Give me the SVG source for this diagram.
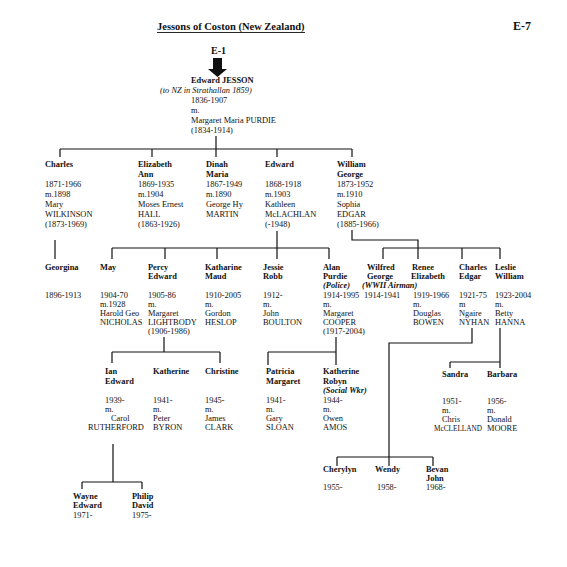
<svg xmlns="http://www.w3.org/2000/svg" width="567" height="567" viewBox="0 0 567 567">
<style>
text{font-family:"Liberation Serif","Times New Roman",serif;font-size:8.4px;fill:#111}
.b{font-weight:bold}
.i{font-style:italic}
.bi{font-weight:bold;font-style:italic}
.ttl{font-size:10.5px;font-weight:bold}
.ln{stroke:#111;stroke-width:1.2;fill:none}
</style>
<rect width="567" height="567" fill="#fff"/>
<g id="header">
<text x="157" y="30" class="ttl">Jessons of Coston (New Zealand)</text>
<line x1="157" y1="32.5" x2="305" y2="32.5" stroke="#111" stroke-width="0.9"/>
<text x="513" y="30" class="ttl" style="font-size:12px">E-7</text>
<text x="211" y="54" class="b" style="font-size:10px">E-1</text>
<path d="M213 58h9v11h5l-9.5 8l-9.5-8h5z" fill="#111"/>
</g>
<g id="connectors" class="ln">
<path d="M216 136V149M60 149H352M60 149V157M152 149V157M216 149V157M277 149V157M352 149V157"/>
<path d="M55 240V259"/>
<path d="M277 231V248M112 248H329M112 248V259M165 248V259M217 248V259M277 248V259M329 248V259"/>
<path d="M352 230V240H418V248M383 248H500M383 248V259M418 248V259M462 248V259M500 248V259"/>
<path d="M164 337V352M112 352H220M112 352V363M220 352V363"/>
<path d="M336 337V365M268 352H336M268 352V365"/>
<path d="M472 328V343H389V466M337 457H433M337 457V466M433 457V466"/>
<path d="M500 328V362M450 362H500M450 362V368M500 362V368"/>
<path d="M113 444V482M82 482H142M82 482V489M142 482V489"/>
</g>
<g id="edward-jesson">
<text x="191" y="83" class="b">Edward JESSON</text>
<text x="160" y="93" class="i">(to NZ in Strathallan 1859)</text>
<text x="191" y="103">1836-1907</text>
<text x="191" y="113">m.</text>
<text x="191" y="123">Margaret Maria PURDIE</text>
<text x="191" y="133">(1834-1914)</text>
</g>
<g id="charles">
<text x="45" y="167" class="b">Charles</text>
<text x="45" y="187">1871-1966</text>
<text x="45" y="197">m.1898</text>
<text x="45" y="207">Mary</text>
<text x="45" y="217">WILKINSON</text>
<text x="45" y="227">(1873-1969)</text>
</g>
<g id="elizabeth">
<text x="138" y="167" class="b">Elizabeth</text>
<text x="138" y="177" class="b">Ann</text>
<text x="138" y="187">1869-1935</text>
<text x="138" y="197">m.1904</text>
<text x="138" y="207">Moses Ernest</text>
<text x="138" y="217">HALL</text>
<text x="138" y="227">(1863-1926)</text>
</g>
<g id="dinah">
<text x="206" y="167" class="b">Dinah</text>
<text x="206" y="177" class="b">Maria</text>
<text x="206" y="187">1867-1949</text>
<text x="206" y="197">m.1890</text>
<text x="206" y="207">George Hy</text>
<text x="206" y="217">MARTIN</text>
</g>
<g id="edward">
<text x="265" y="167" class="b">Edward</text>
<text x="265" y="187">1868-1918</text>
<text x="265" y="197">m.1903</text>
<text x="265" y="207">Kathleen</text>
<text x="265" y="217">McLACHLAN</text>
<text x="265" y="227">(-1948)</text>
</g>
<g id="william">
<text x="337" y="167" class="b">William</text>
<text x="337" y="177" class="b">George</text>
<text x="337" y="187">1873-1952</text>
<text x="337" y="197">m.1910</text>
<text x="337" y="207">Sophia</text>
<text x="337" y="217">EDGAR</text>
<text x="337" y="227">(1885-1966)</text>
</g>
<g id="georgina">
<text x="45" y="270" class="b">Georgina</text>
<text x="45" y="298">1896-1913</text>
</g>
<g id="may">
<text x="100" y="270" class="b">May</text>
<text x="100" y="298">1904-70</text>
<text x="100" y="307">m.1928</text>
<text x="100" y="316">Harold Geo</text>
<text x="100" y="325">NICHOLAS</text>
</g>
<g id="percy">
<text x="148" y="270" class="b">Percy</text>
<text x="148" y="279" class="b">Edward</text>
<text x="148" y="298">1905-86</text>
<text x="148" y="307">m.</text>
<text x="148" y="316">Margaret</text>
<text x="148" y="325">LIGHTBODY</text>
<text x="148" y="334">(1906-1986)</text>
</g>
<g id="katharine">
<text x="205" y="270" class="b">Katharine</text>
<text x="205" y="279" class="b">Maud</text>
<text x="205" y="298">1910-2005</text>
<text x="205" y="307">m.</text>
<text x="205" y="316">Gordon</text>
<text x="205" y="325">HESLOP</text>
</g>
<g id="jessie">
<text x="263" y="270" class="b">Jessie</text>
<text x="263" y="279" class="b">Robb</text>
<text x="263" y="298">1912-</text>
<text x="263" y="307">m.</text>
<text x="263" y="316">John</text>
<text x="263" y="325">BOULTON</text>
</g>
<g id="alan">
<text x="323" y="270" class="b">Alan</text>
<text x="323" y="279" class="b">Purdie</text>
<text x="323" y="288" class="bi">(Police)</text>
<text x="323" y="298">1914-1995</text>
<text x="323" y="307">m.</text>
<text x="323" y="316">Margaret</text>
<text x="323" y="325">COOPER</text>
<text x="323" y="334">(1917-2004)</text>
</g>
<g id="wilfred">
<text x="367" y="270" class="b">Wilfred</text>
<text x="367" y="279" class="b">George</text>
<text x="362" y="288" class="bi">(WWII Airman)</text>
<text x="364" y="298">1914-1941</text>
</g>
<g id="renee">
<text x="412" y="270" class="b">Renee</text>
<text x="411" y="279" class="b">Elizabeth</text>
<text x="413" y="298">1919-1966</text>
<text x="413" y="307">m.</text>
<text x="413" y="316">Douglas</text>
<text x="413" y="325">BOWEN</text>
</g>
<g id="charles-edgar">
<text x="459" y="270" class="b">Charles</text>
<text x="459" y="279" class="b">Edgar</text>
<text x="459" y="298">1921-75</text>
<text x="459" y="307">m</text>
<text x="459" y="316">Ngaire</text>
<text x="459" y="325">NYHAN</text>
</g>
<g id="leslie">
<text x="495" y="270" class="b">Leslie</text>
<text x="495" y="279" class="b">William</text>
<text x="495" y="298">1923-2004</text>
<text x="495" y="307">m.</text>
<text x="495" y="316">Betty</text>
<text x="495" y="325">HANNA</text>
</g>
<g id="ian">
<text x="105" y="374" class="b">Ian</text>
<text x="105" y="384" class="b">Edward</text>
<text x="105" y="403">1939-</text>
<text x="105" y="412">m.</text>
<text x="111" y="421">Carol</text>
<text x="88" y="430">RUTHERFORD</text>
</g>
<g id="katherine-byron">
<text x="153" y="374" class="b">Katherine</text>
<text x="153" y="403">1941-</text>
<text x="153" y="412">m.</text>
<text x="153" y="421">Peter</text>
<text x="153" y="430">BYRON</text>
</g>
<g id="christine">
<text x="205" y="374" class="b">Christine</text>
<text x="205" y="403">1945-</text>
<text x="205" y="412">m.</text>
<text x="205" y="421">James</text>
<text x="205" y="430">CLARK</text>
</g>
<g id="patricia">
<text x="266" y="374" class="b">Patricia</text>
<text x="266" y="384" class="b">Margaret</text>
<text x="266" y="403">1941-</text>
<text x="266" y="412">m.</text>
<text x="266" y="421">Gary</text>
<text x="266" y="430">SLOAN</text>
</g>
<g id="katherine-amos">
<text x="323" y="374" class="b">Katherine</text>
<text x="323" y="384" class="b">Robyn</text>
<text x="323" y="393" class="bi">(Social Wkr)</text>
<text x="323" y="403">1944-</text>
<text x="323" y="412">m.</text>
<text x="323" y="421">Owen</text>
<text x="323" y="430">AMOS</text>
</g>
<g id="sandra">
<text x="442" y="377" class="b">Sandra</text>
<text x="442" y="404">1951-</text>
<text x="442" y="413">m.</text>
<text x="442" y="422">Chris</text>
<text x="434" y="431" textLength="48" lengthAdjust="spacingAndGlyphs">McCLELLAND</text>
</g>
<g id="barbara">
<text x="487" y="377" class="b">Barbara</text>
<text x="487" y="404">1956-</text>
<text x="487" y="413">m.</text>
<text x="487" y="422">Donald</text>
<text x="487" y="431">MOORE</text>
</g>
<g id="cherylyn">
<text x="323" y="472" class="b">Cherylyn</text>
<text x="323" y="490">1955-</text>
</g>
<g id="wendy">
<text x="375" y="472" class="b">Wendy</text>
<text x="377" y="490">1958-</text>
</g>
<g id="bevan">
<text x="426" y="472" class="b">Bevan</text>
<text x="426" y="481" class="b">John</text>
<text x="426" y="490">1968-</text>
</g>
<g id="wayne">
<text x="73" y="499" class="b">Wayne</text>
<text x="73" y="508" class="b">Edward</text>
<text x="73" y="518">1971-</text>
</g>
<g id="philip">
<text x="132" y="499" class="b">Philip</text>
<text x="132" y="508" class="b">David</text>
<text x="132" y="518">1975-</text>
</g>
</svg>
